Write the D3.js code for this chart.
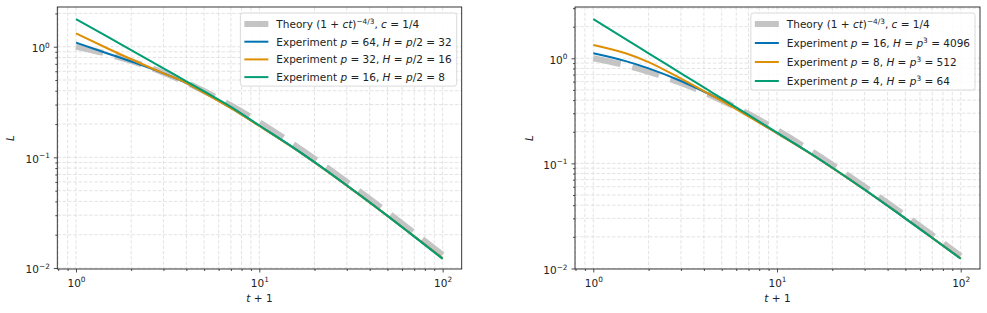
<!DOCTYPE html>
<html>
<head>
<meta charset="UTF-8">
<title>Loss vs t+1</title>
<script src="https://cdn.jsdelivr.net/npm/d3@7"></script>
<style>
  body { margin: 0; background: #fff; }
  svg { display: block; font-family: "DejaVu Sans", sans-serif; }
</style>
</head>
<body>
<script>
  const tPlus1 = [1, 1.5, 2, 3, 4, 5, 7, 10, 15, 20, 30, 50, 70, 100];

  // theory (1 + ct)^(-4/3), c = 1/4
  const theoryL = [1.0, 0.855, 0.743, 0.582, 0.474, 0.397, 0.295, 0.2077, 0.1346, 0.0971, 0.0600, 0.0319, 0.0208, 0.01316];

  // left panel, H = p/2
  const leftP64 = [1.09, 0.865, 0.735, 0.575, 0.47, 0.385, 0.280, 0.193, 0.1252, 0.0903, 0.0558, 0.0297, 0.01935, 0.01224];
  const leftP32 = [1.32, 0.959, 0.771, 0.575, 0.47, 0.383, 0.278, 0.192, 0.1247, 0.0900, 0.0556, 0.0296, 0.0193, 0.01222];
  const leftP16 = [1.78, 1.218, 0.931, 0.637, 0.487, 0.395, 0.286, 0.194, 0.1255, 0.0905, 0.0557, 0.0296, 0.0192, 0.0121];

  // right panel, H = p^3
  const rightP16 = [1.115, 0.940, 0.802, 0.608, 0.483, 0.397, 0.283, 0.194, 0.1259, 0.0908, 0.0562, 0.0300, 0.0196, 0.01245];
  const rightP8 = [1.34, 1.116, 0.92, 0.64, 0.488, 0.393, 0.280, 0.1935, 0.1256, 0.0906, 0.0561, 0.0299, 0.01955, 0.01243];
  const rightP4 = [2.36, 1.52, 1.116, 0.72, 0.528, 0.415, 0.289, 0.196, 0.1262, 0.0908, 0.0561, 0.0298, 0.0195, 0.01238];

  const seriesColors = ["#0173B2", "#DE8F05", "#029E73"];
  const theoryColor = "#c4c4c4";

  // legend text pieces: [text, style] ("" normal, "i" italic, "s" superscript)
  const theoryLabel = [["Theory (1 + ", ""], ["ct", "i"], [")", ""], ["\u22124/3", "s"], [", ", ""], ["c", "i"], [" = 1/4", ""]];
  const leftLabels = [
    [["Experiment ", ""], ["p", "i"], [" = 64, ", ""], ["H", "i"], [" = ", ""], ["p", "i"], ["/2 = 32", ""]],
    [["Experiment ", ""], ["p", "i"], [" = 32, ", ""], ["H", "i"], [" = ", ""], ["p", "i"], ["/2 = 16", ""]],
    [["Experiment ", ""], ["p", "i"], [" = 16, ", ""], ["H", "i"], [" = ", ""], ["p", "i"], ["/2 = 8", ""]]
  ];
  const rightLabels = [
    [["Experiment ", ""], ["p", "i"], [" = 16, ", ""], ["H", "i"], [" = ", ""], ["p", "i"], ["3", "s"], [" = 4096", ""]],
    [["Experiment ", ""], ["p", "i"], [" = 8, ", ""], ["H", "i"], [" = ", ""], ["p", "i"], ["3", "s"], [" = 512", ""]],
    [["Experiment ", ""], ["p", "i"], [" = 4, ", ""], ["H", "i"], [" = ", ""], ["p", "i"], ["3", "s"], [" = 64", ""]]
  ];

  const xMajor = [1, 10, 100];
  const yMajor = [0.01, 0.1, 1];
  const xMajorExp = ["0", "1", "2"];
  const yMajorExp = ["\u22122", "\u22121", "0"];

  const W = 987, H = 313;
  const svg = d3.select("body").append("svg").attr("width", W).attr("height", H);

  function richText(sel, pieces, size) {
    let shifted = false;
    pieces.forEach(p => {
      const ts = sel.append("tspan").text(p[0]);
      if (p[1] === "i") ts.attr("font-style", "italic");
      if (p[1] === "s") {
        ts.attr("font-size", size * 0.7).attr("dy", -size * 0.4);
        shifted = true;
      } else if (shifted) {
        ts.attr("dy", size * 0.4);
        shifted = false;
      }
    });
  }

  function minorValues(lo, hi) {
    const out = [];
    for (let e = -3; e <= 3; e++) {
      for (let m = 2; m <= 9; m++) {
        const v = m * Math.pow(10, e);
        if (v >= lo && v <= hi) out.push(v);
      }
    }
    return out;
  }

  function drawPanel(cfg) {
    const g = svg.append("g");
    const x = d3.scaleLog().domain(cfg.xDom).range([cfg.x0, cfg.x1]);
    const y = d3.scaleLog().domain(cfg.yDom).range([cfg.y1, cfg.y0]);

    const xMinor = minorValues(cfg.xDom[0], cfg.xDom[1]);
    const yMinor = minorValues(cfg.yDom[0], cfg.yDom[1]);

    // grid
    const grid = g.append("g").attr("stroke", "#dcdcdc").attr("stroke-width", 0.8)
      .attr("stroke-dasharray", "3.5,1.8").attr("fill", "none");
    xMajor.concat(xMinor).forEach(v => {
      grid.append("line").attr("x1", x(v)).attr("x2", x(v)).attr("y1", cfg.y0).attr("y2", cfg.y1);
    });
    yMajor.concat(yMinor).forEach(v => {
      grid.append("line").attr("x1", cfg.x0).attr("x2", cfg.x1).attr("y1", y(v)).attr("y2", y(v));
    });

    const clipId = "clip" + cfg.id;
    svg.append("clipPath").attr("id", clipId).append("rect")
      .attr("x", cfg.x0).attr("y", cfg.y0).attr("width", cfg.x1 - cfg.x0).attr("height", cfg.y1 - cfg.y0);

    const line = d3.line().x(d => x(d[0])).y(d => y(d[1])).curve(d3.curveMonotoneX);
    const plot = g.append("g").attr("clip-path", `url(#${clipId})`);

    plot.append("path").datum(tPlus1.map((t, i) => [t, theoryL[i]]))
      .attr("d", line).attr("fill", "none").attr("stroke", theoryColor)
      .attr("stroke-width", 6).attr("stroke-dasharray", "28,12");

    cfg.series.forEach((s, k) => {
      plot.append("path").datum(tPlus1.map((t, i) => [t, s[i]]))
        .attr("d", line).attr("fill", "none").attr("stroke", seriesColors[k])
        .attr("stroke-width", 2).attr("stroke-linejoin", "round");
    });

    // axes ticks
    const xa = g.append("g").attr("transform", `translate(0,${cfg.y1})`)
      .call(d3.axisBottom(x).tickValues(xMajor).tickSizeInner(3.5).tickSizeOuter(0).tickPadding(3).tickFormat(() => ""));
    g.append("g").attr("transform", `translate(0,${cfg.y1})`)
      .call(d3.axisBottom(x).tickValues(xMinor).tickSizeInner(2).tickSizeOuter(0).tickFormat(() => ""));
    const ya = g.append("g").attr("transform", `translate(${cfg.x0},0)`)
      .call(d3.axisLeft(y).tickValues(yMajor).tickSizeInner(3.5).tickSizeOuter(0).tickPadding(4).tickFormat(() => ""));
    g.append("g").attr("transform", `translate(${cfg.x0},0)`)
      .call(d3.axisLeft(y).tickValues(yMinor).tickSizeInner(2).tickSizeOuter(0).tickFormat(() => ""));
    g.selectAll(".domain").remove();
    g.selectAll(".tick line").attr("stroke", "#222").attr("stroke-width", 0.8);

    xa.selectAll(".tick text").each(function (d, i) {
      const t = d3.select(this).attr("font-size", 10.5).attr("fill", "#222").attr("font-family", "DejaVu Sans").attr("dy", "1.05em");
      richText(t, [["10", ""], [xMajorExp[i], "s"]], 10.5);
    });
    ya.selectAll(".tick text").each(function (d, i) {
      const t = d3.select(this).attr("font-size", 10.5).attr("fill", "#222").attr("font-family", "DejaVu Sans").attr("dy", "0.45em");
      richText(t, [["10", ""], [yMajorExp[i], "s"]], 10.5);
    });

    // frame
    g.append("rect").attr("x", cfg.x0).attr("y", cfg.y0)
      .attr("width", cfg.x1 - cfg.x0).attr("height", cfg.y1 - cfg.y0)
      .attr("fill", "none").attr("stroke", "#222").attr("stroke-width", 0.9);

    // axis labels
    const xl = g.append("text").attr("x", (cfg.x0 + cfg.x1) / 2).attr("y", 302)
      .attr("text-anchor", "middle").attr("font-size", 10.5).attr("fill", "#222");
    richText(xl, [["t", "i"], [" + 1", ""]], 10.5);
    g.append("text").attr("transform", `translate(${cfg.yLabelX},${(cfg.y0 + cfg.y1) / 2}) rotate(-90)`)
      .attr("text-anchor", "middle").attr("font-size", 10.5).attr("font-style", "italic").attr("fill", "#222").text("L");

    // legend
    const lg = g.append("g");
    const box = lg.append("rect").attr("fill", "#fff").attr("fill-opacity", 0.85)
      .attr("stroke", "#d6d6d6").attr("stroke-width", 0.9).attr("rx", 2.5);
    const labels = [theoryLabel].concat(cfg.labels);
    let maxLen = 0;
    labels.forEach((lab, i) => {
      const cy = cfg.legTop + 11 + i * cfg.rowH;
      if (i === 0) {
        lg.append("line").attr("stroke", theoryColor).attr("stroke-width", 6)
          .attr("x1", 0).attr("x2", 24).attr("y1", cy).attr("y2", cy).attr("class", "h");
      } else {
        lg.append("line").attr("stroke", seriesColors[i - 1]).attr("stroke-width", 2)
          .attr("x1", 0).attr("x2", 24).attr("y1", cy).attr("y2", cy).attr("class", "h");
      }
      const t = lg.append("text").attr("y", cy + 3.8).attr("font-size", 10.5).attr("fill", "#222").attr("class", "lt");
      richText(t, lab, 10.5);
      maxLen = Math.max(maxLen, t.node().getComputedTextLength());
    });
    const bw = 36 + maxLen + 5;
    const bx = cfg.x1 - 5 - bw;
    box.attr("x", bx).attr("y", cfg.legTop).attr("width", bw).attr("height", 22 + 3 * cfg.rowH - 2 + cfg.legExtra);
    lg.selectAll("line.h").attr("x1", bx + 4).attr("x2", bx + 28);
    lg.selectAll("text.lt").attr("x", bx + 36);
  }

  drawPanel({
    id: "L", x0: 57.3, x1: 461.7, y0: 7, y1: 269,
    xDom: [Math.pow(10, -0.102), Math.pow(10, 2.104)],
    yDom: [Math.pow(10, -2.009), Math.pow(10, 0.359)],
    series: [leftP64, leftP32, leftP16], labels: leftLabels,
    yLabelX: 14, legTop: 13, rowH: 17.7, legExtra: 0
  });
  drawPanel({
    id: "R", x0: 575, x1: 980, y0: 7, y1: 269,
    xDom: [Math.pow(10, -0.0996), Math.pow(10, 2.105)],
    yDom: [Math.pow(10, -2.005), Math.pow(10, 0.488)],
    series: [rightP16, rightP8, rightP4], labels: rightLabels,
    yLabelX: 533, legTop: 13, rowH: 19, legExtra: 0
  });
</script>
</body>
</html>
